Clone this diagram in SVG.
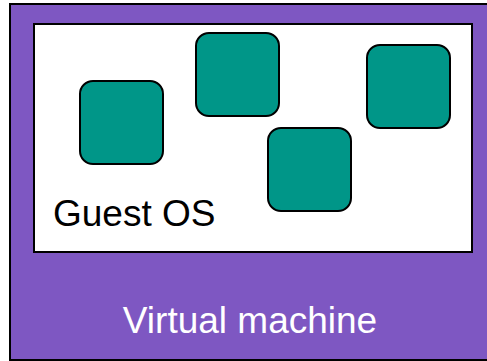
<svg xmlns="http://www.w3.org/2000/svg" width="487" height="361" viewBox="0 0 487 361">
<style>
.app{fill:#009688;stroke:#000;stroke-width:2}
.lbl{font-family:"Liberation Sans",Arial,sans-serif;font-size:37px}
</style>
<rect width="487" height="361" fill="#fff"/>
<g id="vm">
<rect x="10" y="4" width="482" height="356" fill="#7e57c2" stroke="#000" stroke-width="2"/>
<text class="lbl" x="250" y="333" text-anchor="middle" fill="#fff">Virtual machine</text>
</g>
<g id="guest">
<rect x="34" y="24" width="438" height="228" fill="#fff" stroke="#000" stroke-width="2"/>
<text class="lbl" x="53" y="226" fill="#000">Guest OS</text>
</g>
<g id="app1"><rect class="app" x="80" y="81" width="83" height="83" rx="13"/></g>
<g id="app2"><rect class="app" x="196" y="33" width="83" height="83" rx="13"/></g>
<g id="app3"><rect class="app" x="367" y="45" width="83" height="83" rx="13"/></g>
<g id="app4"><rect class="app" x="268" y="128" width="83" height="83" rx="13"/></g>
<g id="connectors"/>
</svg>
